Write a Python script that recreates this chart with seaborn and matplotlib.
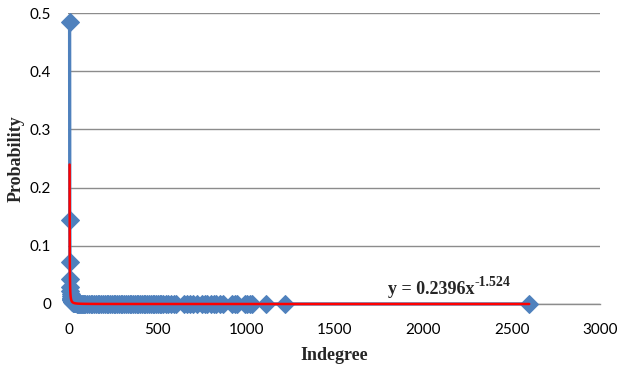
import numpy as np
import matplotlib
matplotlib.use("Agg")
import matplotlib.pyplot as plt
import seaborn as sns

# indegree values and their probabilities
indegree = [1, 2, 3, 4, 5, 6, 7, 8, 9, 10, 11, 12, 13, 14, 15, 16, 18, 20, 22, 25,
            28, 30, 33, 36, 40, 45, 50, 55, 60, 65, 70, 75, 80, 90, 100, 110, 120,
            130, 140, 150, 160, 170, 180, 190, 200, 210, 220, 230, 240, 250, 260, 270,
            280, 290, 300, 310, 320, 330, 340, 350, 360, 370, 380, 390, 400, 410, 420,
            430, 440, 450, 460, 470, 480, 490, 500, 510, 520, 530, 545, 560, 575, 590,
            605, 650, 665, 680, 700, 720, 750, 765, 780, 800, 815, 830, 850, 870, 920,
            935, 950, 990, 1005, 1020, 1030, 1110, 1220, 2600]
probability = [0.485, 0.145, 0.072, 0.043, 0.030, 0.022, 0.017, 0.013, 0.011, 0.009,
               0.0075, 0.0065, 0.0057, 0.005, 0.0044, 0.004, 0.0033, 0.0028, 0.0024,
               0.002, 0.0017, 0.0015, 0.0013, 0.0011, 0.0009, 0.0008, 0.0007, 0.0006,
               0.0005, 0.0005, 0.0004, 0.0004, 0.0004, 0.0003, 0.0003, 0.0003, 0.0002,
               0.0002, 0.0002, 0.0002, 0.0002, 0.0002, 0.0002, 0.0002, 0.0002, 0.0002,
               0.0001, 0.0001, 0.0001, 0.0001, 0.0001, 0.0001, 0.0001, 0.0001, 0.0001,
               0.0001, 0.0001, 0.0001, 0.0001, 0.0001, 0.0001, 0.0001, 0.0001, 0.0001,
               0.0001, 0.0001, 0.0001, 0.0001, 0.0001, 0.0001, 0.0001, 0.0001, 0.0001,
               0.0001, 0.0001, 0.0001, 0.0001, 0.0001, 0.0001, 0.0001, 0.0001, 0.0001,
               0.0001, 0.0001, 0.0001, 0.0001, 0.0001, 0.0001, 0.0001, 0.0001, 0.0001,
               0.0001, 0.0001, 0.0001, 0.0001, 0.0001, 0.0001, 0.0001, 0.0001, 0.0001,
               0.0001, 0.0001, 0.0001, 0.0001, 0.0001, 0.0001]

# power trendline y = a * x^b
fit_a = 0.2396
fit_b = -1.524

x_ticks = [0, 500, 1000, 1500, 2000, 2500, 3000]
y_ticks = [0, 0.1, 0.2, 0.3, 0.4, 0.5]
y_tick_labels = ["0", "0.1", "0.2", "0.3", "0.4", "0.5"]

sns.set_style("white")
plt.rcParams['font.family'] = ['Lato', 'DejaVu Sans']

blue = "#4f81bd"
grid_col = "#8c8c8c"
serif = "Liberation Serif"

fig = plt.figure(figsize=(6.2, 3.66), dpi=100)
ax = fig.add_axes([0.1097, 0.1694, 0.858, 0.795])

sns.lineplot(x=indegree, y=probability, ax=ax, color=blue, linewidth=2.4,
             marker="D", markersize=9.5, markeredgecolor=blue, sort=False,
             estimator=None, zorder=3, clip_on=False)

fit_x = np.array(indegree, dtype=float)
sns.lineplot(x=fit_x, y=fit_a * fit_x ** fit_b, ax=ax, color="#ff0000",
             linewidth=1.8, sort=False, estimator=None, zorder=4, clip_on=False)

ax.set_xlim(-8, 3000)
ax.set_ylim(0, 0.5)
ax.set_xticks(x_ticks)
ax.set_yticks(y_ticks)
ax.set_yticklabels(y_tick_labels)
ax.tick_params(axis="both", labelsize=11, colors="black", width=1,
               color=grid_col, direction="out")
ax.tick_params(axis="x", length=5, pad=9)
ax.tick_params(axis="y", length=3, pad=9)
ax.grid(axis="y", color=grid_col, linewidth=1)
ax.set_axisbelow(True)
for side in ["top", "right", "left"]:
    ax.spines[side].set_visible(False)
ax.spines["bottom"].set_color(grid_col)
ax.spines["bottom"].set_linewidth(1)

ax.set_xlabel("Indegree", family=serif, fontweight="bold",
              fontsize=13, labelpad=7)
ax.set_ylabel("Probability", family=serif, fontweight="bold",
              fontsize=13, labelpad=4)

eq = ax.text(1800, 0.011, "y = 0.2396x", family=serif, fontweight="bold",
             fontsize=13, ha="left", va="bottom")
ax.annotate("-1.524", xy=(1, 1), xycoords=eq, xytext=(0.5, 3),
            textcoords="offset points", family=serif, fontweight="bold",
            fontsize=10, ha="left", va="top")

fig.savefig("out.png", dpi=100)
